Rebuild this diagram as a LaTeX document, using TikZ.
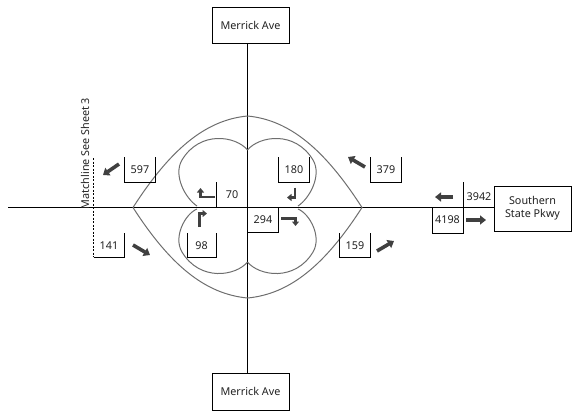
\documentclass[tikz,border=0pt]{standalone}
\usepackage{fontspec}
\setmainfont{Noto Sans}
\usetikzlibrary{arrows.meta}
\definecolor{arrowgray}{HTML}{404040}
\definecolor{lensgray}{HTML}{6E6E6E}
\definecolor{txt}{HTML}{222222}
\begin{document}
\begin{tikzpicture}[x=1pt,y=-1pt,
  road/.style={draw=black,line width=0.9pt},
  frame/.style={draw=black,line width=0.85pt},
  lens/.style={draw=lensgray,line width=1pt},
  namebox/.style={draw=black,line width=0.85pt,fill=white,font=\fontsize{10.8}{13}\selectfont,text=txt,align=center,inner sep=0pt},
  lbl/.style={font=\fontsize{10.8}{12}\selectfont,text=txt,inner sep=0pt},
  bigarrow/.style={draw=arrowgray,line width=3.6pt,-{Triangle[width=9pt,length=6pt]}},
  turnarrow/.style={draw=arrowgray,line width=2.8pt,-{Triangle[width=7pt,length=4.5pt]}}]
\useasboundingbox (0,0) rectangle (572,413);

% street name boxes
\node[namebox,minimum width=77pt,minimum height=36pt] (mtop) at (250.5,25) {Merrick Ave};
\node[namebox,minimum width=77pt,minimum height=37pt] (mbot) at (250.5,391.5) {Merrick Ave};
\node[namebox,minimum width=77pt,minimum height=45pt] (ssp) at (532.5,208.5) {Southern\\State Pkwy};
\coordinate (cx) at (247.5,207.5);
\coordinate (west) at (8,207.5);

% roads
\draw[road] (mtop.south -| cx) -- (mbot.north -| cx);
\draw[road] (west) -- (west -| ssp.west);

% outer lens
\draw[lens] (133,207.5) .. controls (170,150) and (205,120) .. (247.5,116)
  .. controls (290,120) and (325,150) .. (362,207.5)
  .. controls (325,265) and (290,294) .. (247.5,298)
  .. controls (205,294) and (170,265) .. (133,207.5);

% inner lobes
\draw[lens] (247.5,150) .. controls (236,136) and (200,130) .. (182,160) .. controls (173,175) and (185,198) .. (197,206);
\draw[lens] (247.5,150) .. controls (259,136) and (295,130) .. (313,160) .. controls (322,175) and (310,198) .. (298,206);
\draw[lens] (247.5,262) .. controls (236,276) and (200,282) .. (182,252) .. controls (173,237) and (185,214) .. (197,209);
\draw[lens] (247.5,262) .. controls (259,276) and (295,282) .. (313,252) .. controls (322,237) and (310,214) .. (298,209);

% matchline
\draw[black,line width=0.8pt,dash pattern=on 2pt off 1.5pt] (93.5,158) -- (93.5,257);
\node[lbl,rotate=90] (match) at (85,153.5) {Matchline See Sheet 3};

% label frames
\draw[frame] (124.5,157) -- (124.5,182.5) -- (155.5,182.5) -- (155.5,157);
\node[lbl] (n597) at (140,170) {597};
\draw[frame] (93.5,257.5) -- (124.5,257.5) -- (124.5,233);
\node[lbl] (n141) at (109,245.5) {141};
\draw[frame] (216,182) -- (216,207);
\node[lbl] (n70) at (232,195) {70};
\draw[frame] (187,233) -- (187,257.5) -- (216,257.5) -- (216,233);
\node[lbl] (n98) at (201.5,245.5) {98};
\draw[frame] (278.5,157) -- (278.5,182.5) -- (309,182.5) -- (309,157);
\node[lbl] (n180) at (294,170) {180};
\draw[frame] (278.5,207) -- (278.5,232.5) -- (247.5,232.5);
\node[lbl] (n294) at (263,220) {294};
\draw[frame] (339.5,233) -- (339.5,257.5) -- (370.5,257.5) -- (370.5,233);
\node[lbl] (n159) at (355,245.5) {159};
\draw[frame] (370.5,157) -- (370.5,182.5) -- (401,182.5) -- (401,157);
\node[lbl] (n379) at (386,170) {379};
\draw[frame] (463,182) -- (463,233) -- (432,233) -- (432,207.5);
\node[lbl] (n3942) at (479,197) {3942};
\node[lbl] (n4198) at (447.5,220) {4198};

% straight movement arrows
\draw[bigarrow] (119,164) -- (103,175);
\draw[bigarrow] (133,245) -- (150,255);
\draw[bigarrow] (365,167) -- (348,157);
\draw[bigarrow] (377,251) -- (394,241);
\draw[bigarrow] (453,197) -- (435,197);
\draw[bigarrow] (466,220) -- (486,220);

% turn arrows
\draw[turnarrow] (215,197) -- (200.5,197) -- (200.5,188);
\draw[turnarrow] (199.5,227) -- (199.5,213.5) -- (207,213.5);
\draw[turnarrow] (295,187.5) -- (295,197.5) -- (287,197.5);
\draw[turnarrow] (281,218.5) -- (295.5,218.5) -- (295.5,226);
\end{tikzpicture}
\end{document}
